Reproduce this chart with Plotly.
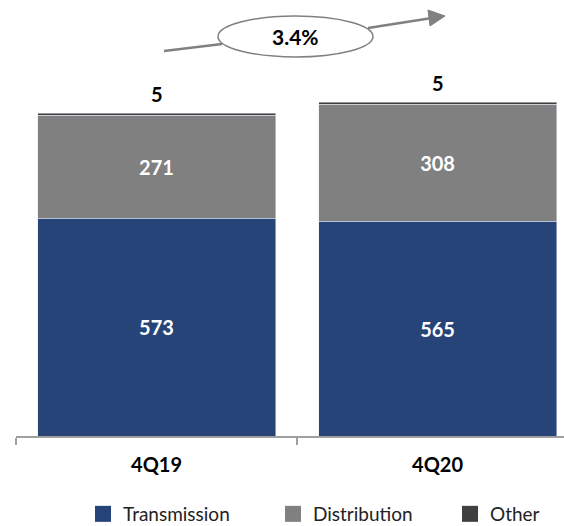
import plotly.graph_objects as go

categories = ["4Q19", "4Q20"]
transmission = [573, 565]
distribution = [271, 308]
other = [5, 5]
growth_label = "3.4%"
series_names = ["Transmission", "Distribution", "Other"]
series_colors = ["#264478", "#808080", "#404040"]

W, H = 564, 526
L, R, T, B = 16, 0, 60, 90
PW, PH = W - L - R, H - T - B

def px(x):
    return (x - L) / PW

def py(y):
    return (H - B - y) / PH

FONT = "Lato"
fig = go.Figure()
fig.add_bar(name=series_names[0], x=categories, y=transmission, marker_color=series_colors[0],
            text=[str(v) for v in transmission], textposition="inside", insidetextanchor="middle",
            textfont=dict(color="white", size=20, family=FONT, weight="bold"), showlegend=False)
fig.add_bar(name=series_names[1], x=categories, y=distribution, marker_color=series_colors[1],
            text=[str(v) for v in distribution], textposition="inside", insidetextanchor="middle",
            textfont=dict(color="white", size=20, family=FONT, weight="bold"), showlegend=False)
fig.add_bar(name=series_names[2], x=categories, y=other, marker_color=series_colors[2], showlegend=False)

# legend entries, each in its own legend box
legend_ids = ["legend", "legend2", "legend3"]
legend_x = [83, 277, 450]
for name, color, lid in zip(series_names, series_colors, legend_ids):
    fig.add_scatter(x=[None], y=[None], mode="markers", name=name, legend=lid,
                    marker=dict(symbol="square", size=16, color=color))

totals = [a + b + c for a, b, c in zip(transmission, distribution, other)]
for c, t, o in zip(categories, totals, other):
    fig.add_annotation(x=c, y=t, text=str(o), showarrow=False, yanchor="bottom", yshift=5,
                       font=dict(size=20, family=FONT, color="black", weight="bold"))

gray = "#808080"
fig.add_shape(type="line", xref="paper", yref="paper", x0=px(164), y0=py(51), x1=px(222), y1=py(44),
              line=dict(color=gray, width=2.5))
fig.add_shape(type="line", xref="paper", yref="paper", x0=px(368), y0=py(28), x1=px(432), y1=py(18),
              line=dict(color=gray, width=2.5))
fig.add_shape(type="path", xref="paper", yref="paper",
              path=f"M {px(445)} {py(16)} L {px(430)} {py(26)} L {px(428)} {py(10)} Z",
              fillcolor=gray, line=dict(color=gray, width=1))
fig.add_shape(type="circle", xref="paper", yref="paper", x0=px(218), y0=py(57), x1=px(373), y1=py(16),
              fillcolor="white", line=dict(color=gray, width=1.5))
fig.add_annotation(xref="paper", yref="paper", x=px(295.5), y=py(37), text=growth_label, showarrow=False,
                   xanchor="center", yanchor="middle",
                   font=dict(size=21, family=FONT, color="black", weight="bold"))

legend_style = dict(orientation="h", xref="container", yref="container", xanchor="left", yanchor="middle",
                    y=1 - 514 / H, font=dict(size=19, family=FONT, color="#222222"),
                    bgcolor="rgba(0,0,0,0)")
fig.update_layout(
    width=W, height=H, barmode="stack", bargap=0.153,
    margin=dict(l=L, r=R, t=T, b=B, autoexpand=False),
    plot_bgcolor="white", paper_bgcolor="white",
    font=dict(family=FONT, color="black"),
    legend=dict(legend_style, x=legend_x[0] / W),
    legend2=dict(legend_style, x=(legend_x[1] - 4) / W),
    legend3=dict(legend_style, x=legend_x[2] / W),
    xaxis=dict(range=[-0.5, 1.45], showline=True, linecolor="#A0A0A0", linewidth=1.5,
               ticks="outside", tickson="boundaries", ticklen=7, tickcolor="#A0A0A0", tickwidth=1.5,
               tickfont=dict(size=20, family=FONT, color="black", weight="bold"),
               ticklabelstandoff=10, showgrid=False, automargin=False),
    yaxis=dict(range=[0, PH / 0.38], visible=False, showgrid=False, automargin=False),
    showlegend=True,
)
fig.write_html("out.html", config={"displayModeBar": False},
               post_script="document.body.style.margin='0';document.body.style.overflow='hidden';")
